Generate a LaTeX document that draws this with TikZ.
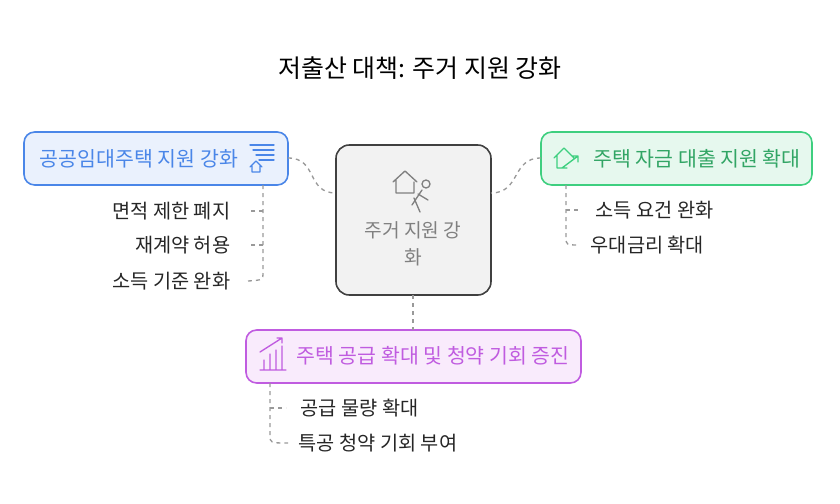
\documentclass[tikz,border=0pt]{standalone}
\usepackage{fontspec}
\setmainfont{Noto Sans CJK KR}
\begin{document}
\begin{tikzpicture}[x=0.75pt,y=-0.75pt,
  conn/.style={draw=gray!80,dashed,line width=1pt},
  lbl/.style={font=\fontsize{14.8}{17}\selectfont,text=black!85},
  ico/.style={line width=1pt,line cap=round,line join=round}]
\definecolor{bl}{HTML}{4A86E8}\definecolor{blf}{HTML}{EAF1FD}
\definecolor{gr}{HTML}{3ECF7F}\definecolor{grf}{HTML}{E6F8EE}
\definecolor{pu}{HTML}{C05CE0}\definecolor{puf}{HTML}{F9EBFC}
\useasboundingbox (0,0) rectangle (840,504);
\node (title) at (420,68) {\fontsize{18.7}{22}\selectfont 저출산 대책: 주거 지원 강화};
% center
\draw[fill=black!5,draw=black!75,line width=1.2pt,rounded corners=10] (336,145) rectangle (491,295);
\node[coordinate] (c) at (413,220) {};
\node[text=black!50,align=center,font=\fontsize{14.4}{20}\selectfont] (ct) at (413,244) {주거 지원 강\\화};
\draw[ico,draw=black!50] (393,182)--(405,171)--(417,182) (396,180)--(396,193)--(414,193)--(414,182);
\draw[ico,draw=black!50] (426,184) circle (4) (422,190)--(412,205) (418,194)--(428,200) (414,198)--(420,212);
% left
\draw[fill=blf,draw=bl,line width=1.2pt,rounded corners=8] (24,132) rectangle (288,185);
\node[text=bl,font=\fontsize{15.4}{18}\selectfont] (l) at (139,159) {공공임대주택 지원 강화};
\draw[ico,draw=bl] (250,145)--(274,145) (253,150)--(274,150) (256,155)--(274,155) (259,160)--(274,160);
\draw[ico,draw=bl] (250,167)--(256,161)--(262,167) (252,166)--(252,172)--(260,172)--(260,166);
% right
\draw[fill=grf,draw=gr,line width=1.2pt,rounded corners=8] (541,132) rectangle (812,185);
\node[text=gr!80!black,font=\fontsize{15.4}{18}\selectfont] (r) at (697,159) {주택 자금 대출 지원 확대};
\draw[ico,draw=gr] (554,158)--(564,148)--(574,158) (557,155)--(557,168)--(567,168) (562,168)--(578,156) (572,156)--(578,156)--(578,162);
% bottom
\draw[fill=puf,draw=pu,line width=1.2pt,rounded corners=8] (246,330) rectangle (581,383);
\node[text=pu,font=\fontsize{15.4}{18}\selectfont] (b) at (433,356) {주택 공급 확대 및 청약 기회 증진};
\draw[ico,draw=pu] (260,370)--(286,370) (264,369)--(264,360) (270,369)--(270,354) (276,369)--(276,350) (282,369)--(282,346) (260,352)--(282,338) (277,338)--(282,338)--(282,343);
% connectors
\draw[conn] (288,158) .. controls (318,158) and (306,193) .. (336,193);
\draw[conn] (541,158) .. controls (511,158) and (521,193) .. (491,193);
\draw[conn] (413,295) -- (413,330);
% left items
\node[lbl,anchor=east] (l1) at (235,211) {면적 제한 폐지};
\node[lbl,anchor=east] (l2) at (235,245) {재계약 허용};
\node[lbl,anchor=east] (l3) at (235,281) {소득 기준 완화};
\draw[conn] (263,185) -- (263,272) .. controls (263,280) .. (248,281);
\draw[conn] (263,211)--(248,211) (263,245)--(248,245);
% right items
\node[lbl,anchor=west] (r1) at (591,210) {소득 요건 완화};
\node[lbl,anchor=west] (r2) at (586,245) {우대금리 확대};
\draw[conn] (566,185) -- (566,237) .. controls (566,245) .. (580,245);
\draw[conn] (566,210)--(580,210);
% bottom items
\node[lbl,anchor=west] (b1) at (296,408) {공급 물량 확대};
\node[lbl,anchor=west] (b2) at (294,443) {특공 청약 기회 부여};
\draw[conn] (270,383) -- (270,435) .. controls (270,443) .. (288,443);
\draw[conn] (270,408)--(286,408);
\end{tikzpicture}
\end{document}
